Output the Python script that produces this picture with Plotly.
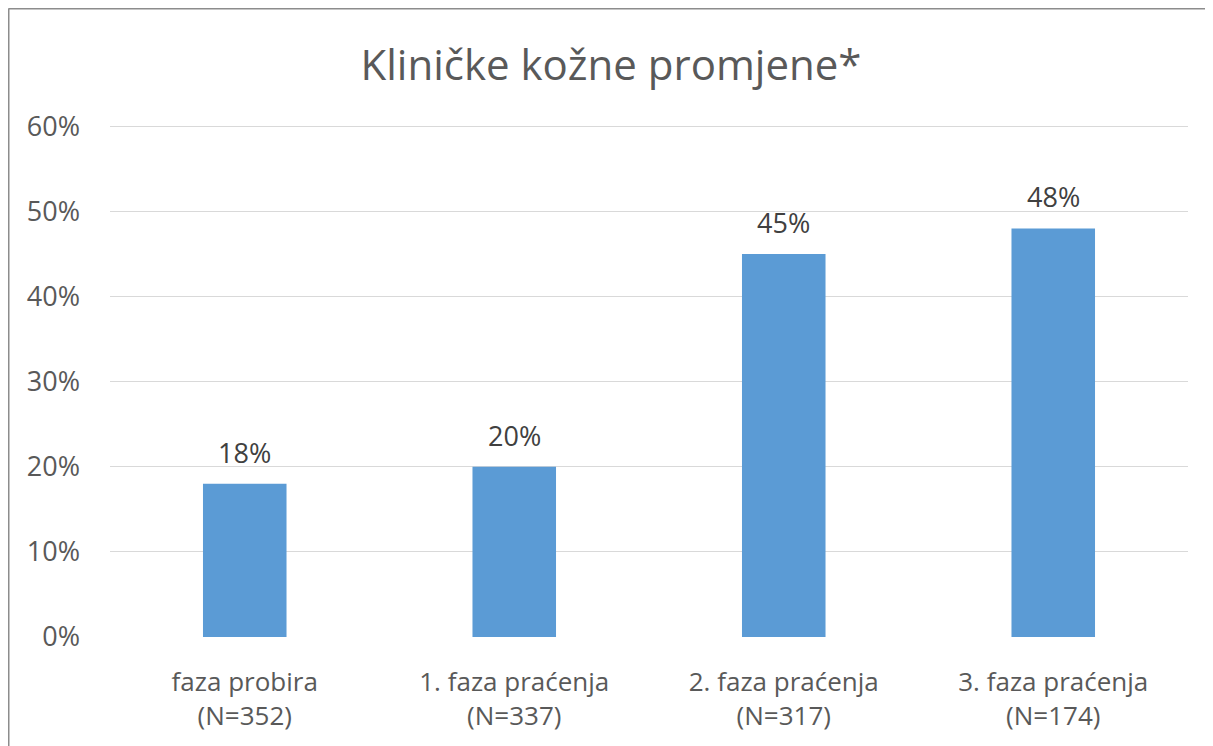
import plotly.graph_objects as go

categories = ["faza probira<br>(N=352)", "1. faza praćenja<br>(N=337)",
              "2. faza praćenja<br>(N=317)", "3. faza praćenja<br>(N=174)"]
values = [0.18, 0.20, 0.45, 0.48]
labels = ["18%", "20%", "45%", "48%"]
title_text = "Kliničke kožne promjene*"
y_ticks = [0, 0.1, 0.2, 0.3, 0.4, 0.5, 0.6]

OFF = 8  # page body margin
W, H = 1213 - OFF, 746 - OFF
YMAX = 0.605
pw, ph = 1078, 515
L = 110 - OFF
T = (637 - ph) - OFF
R, B = W - L - pw, H - T - ph

fig = go.Figure()
fig.add_trace(go.Bar(x=categories, y=values, marker=dict(color="#5B9BD5", line=dict(width=0)),
                     hoverinfo="skip"))

for c, v, t in zip(categories, values, labels):
    fig.add_annotation(x=c, y=v, text=t, showarrow=False, yanchor="bottom", yshift=11,
                       font=dict(family="Open Sans", size=27, color="#404040"))

fpx = lambda px: (px - L) / pw
fpy = lambda py: (H - B - py) / ph
border = dict(color="#8C8C8C", width=2)
fig.add_shape(type="line", xref="paper", yref="paper", x0=fpx(0.5), x1=fpx(0.5), y0=fpy(H + 5), y1=fpy(0.5), line=border)
fig.add_shape(type="line", xref="paper", yref="paper", x0=fpx(0.5), x1=fpx(W + 5), y0=fpy(0.5), y1=fpy(0.5), line=border)

fig.update_layout(
    width=W, height=H,
    margin=dict(l=L, r=R, t=T, b=B),
    paper_bgcolor="white", plot_bgcolor="white",
    bargap=0.69,
    showlegend=False,
    title=dict(text=title_text, x=(611 - OFF) / W, xanchor="center", y=1 - (65 - OFF) / H, yanchor="middle",
               font=dict(family="Open Sans", size=42, color="#595959")),
    font=dict(family="Open Sans", color="#595959"),
)
fig.update_yaxes(range=[0, YMAX], tickvals=y_ticks, tickformat=".0%",
                 showgrid=True, gridcolor="#D9D9D9",
                 gridwidth=1, zeroline=False, showline=False, ticks="", ticklabelstandoff=29,
                 tickfont=dict(family="Open Sans", size=27, color="#595959"), fixedrange=True)
fig.update_xaxes(showline=False, ticks="", showgrid=False, ticklabelstandoff=27,
                 tickfont=dict(family="Open Sans", size=26, color="#595959"), fixedrange=True)

fig.write_html("out.html", config={"displayModeBar": False})
